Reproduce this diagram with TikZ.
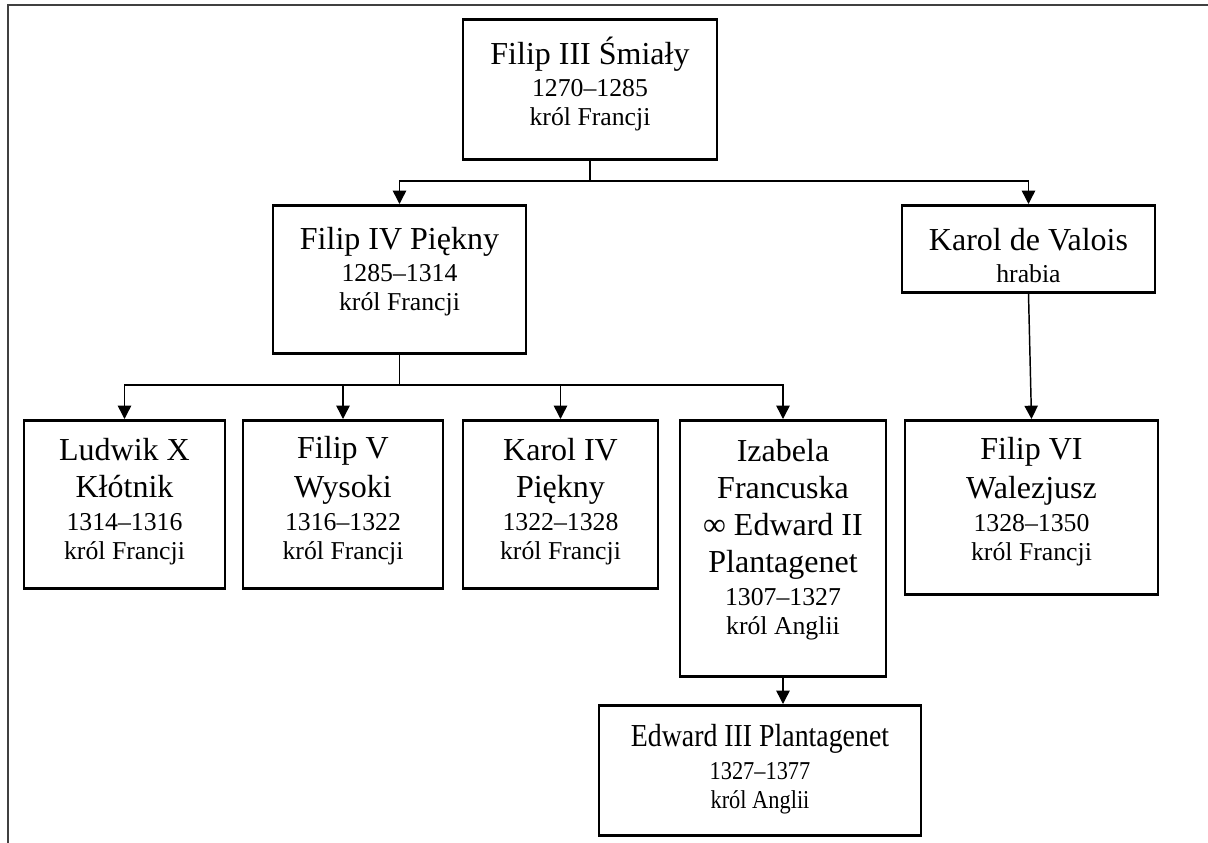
\documentclass[tikz,border=0pt]{standalone}
\usepackage{fontspec}
\setmainfont{Liberation Serif}
\newfontfamily\waski{Liberation Serif}[FakeStretch=0.87]
\usetikzlibrary{arrows.meta}
\tikzstyle{osoba}=[draw, line width=2pt, align=center, anchor=north, inner xsep=2pt, inner ysep=0pt, font=\fontsize{24}{21.75}\selectfont]
\tikzstyle{rod}=[line width=1.1pt, ->]
\tikzstyle{ramka}=[line width=1.5pt, black!75]
\tikzset{>={Triangle[width=10pt,length=10pt]}}
\newcommand{\lata}[1]{{\fontsize{19.3}{21.75}\selectfont #1}}

\begin{document}
\begin{tikzpicture}[x=0.75pt, y=-0.75pt]
\useasboundingbox (0,0) rectangle (1208,843);
\draw[ramka] (8,843) -- (8,5) -- (1208,5);
%
\node[osoba, minimum width=190.5pt, text height=79.5pt, text depth=25.5pt] (f3) at (590,18) {Filip III Śmiały\\[2pt] \lata{1270–1285}\\ \lata{król Francji}};
\node[osoba, minimum width=189.75pt, text height=78.75pt, text depth=32.25pt] (f4) at (399.5,204) {Filip IV Piękny\\[2pt] \lata{1285–1314}\\ \lata{król Francji}};
\node[osoba, minimum width=189.75pt, text height=57.75pt, text depth=7.5pt] (kv) at (1028.5,204) {Karol de Valois\\[2pt] \lata{hrabia}};
\node[osoba, minimum width=150.75pt, text height=104.25pt, text depth=21.75pt] (lx) at (124.5,419) {Ludwik X\\[6pt] Kłótnik\\[3pt] \lata{1314–1316}\\ \lata{król Francji}};
\node[osoba, minimum width=150pt, text height=104.25pt, text depth=21.75pt] (fv) at (343,419) {Filip V\\[6pt] Wysoki\\[3pt] \lata{1316–1322}\\ \lata{król Francji}};
\node[osoba, minimum width=146.25pt, text height=104.25pt, text depth=21.75pt] (k4) at (560.5,419) {Karol IV\\[6pt] Piękny\\[3pt] \lata{1322–1328}\\ \lata{król Francji}};
\node[osoba, minimum width=154.5pt, text height=160.5pt, text depth=31.5pt] (iz) at (783,419) {Izabela\\[6pt] Francuska\\[6pt] ∞ Edward II\\[6pt] Plantagenet\\[3pt] \lata{1307–1327}\\ \lata{król Anglii}};
\node[osoba, minimum width=189.75pt, text height=105pt, text depth=25.5pt] (f6) at (1031.5,419) {Filip VI\\[6pt] Walezjusz\\[3pt] \lata{1328–1350}\\ \lata{król Francji}};
\node[osoba, font=\waski\fontsize{24}{21.75}\selectfont, minimum width=241.5pt, text height=77.25pt, text depth=20.25pt] (e3) at (760,704) {Edward III Plantagenet\\[3pt] \lata{1327–1377}\\ \lata{król Anglii}};
%
\coordinate (w1) at (590,181);
\coordinate (w2) at (399.5,385);
\draw[rod] (f3.south) -- (w1) -| (f4.north);
\draw[rod] (w1) -| (kv.north);
\foreach \d in {lx,fv,k4,iz}
  \draw[rod] (f4.south) -- (w2) -| (\d.north);
\draw[rod] (kv.south) -- (f6.north);
\draw[rod] (iz.south) -- (iz.south |- e3.north);
\end{tikzpicture}
\end{document}
